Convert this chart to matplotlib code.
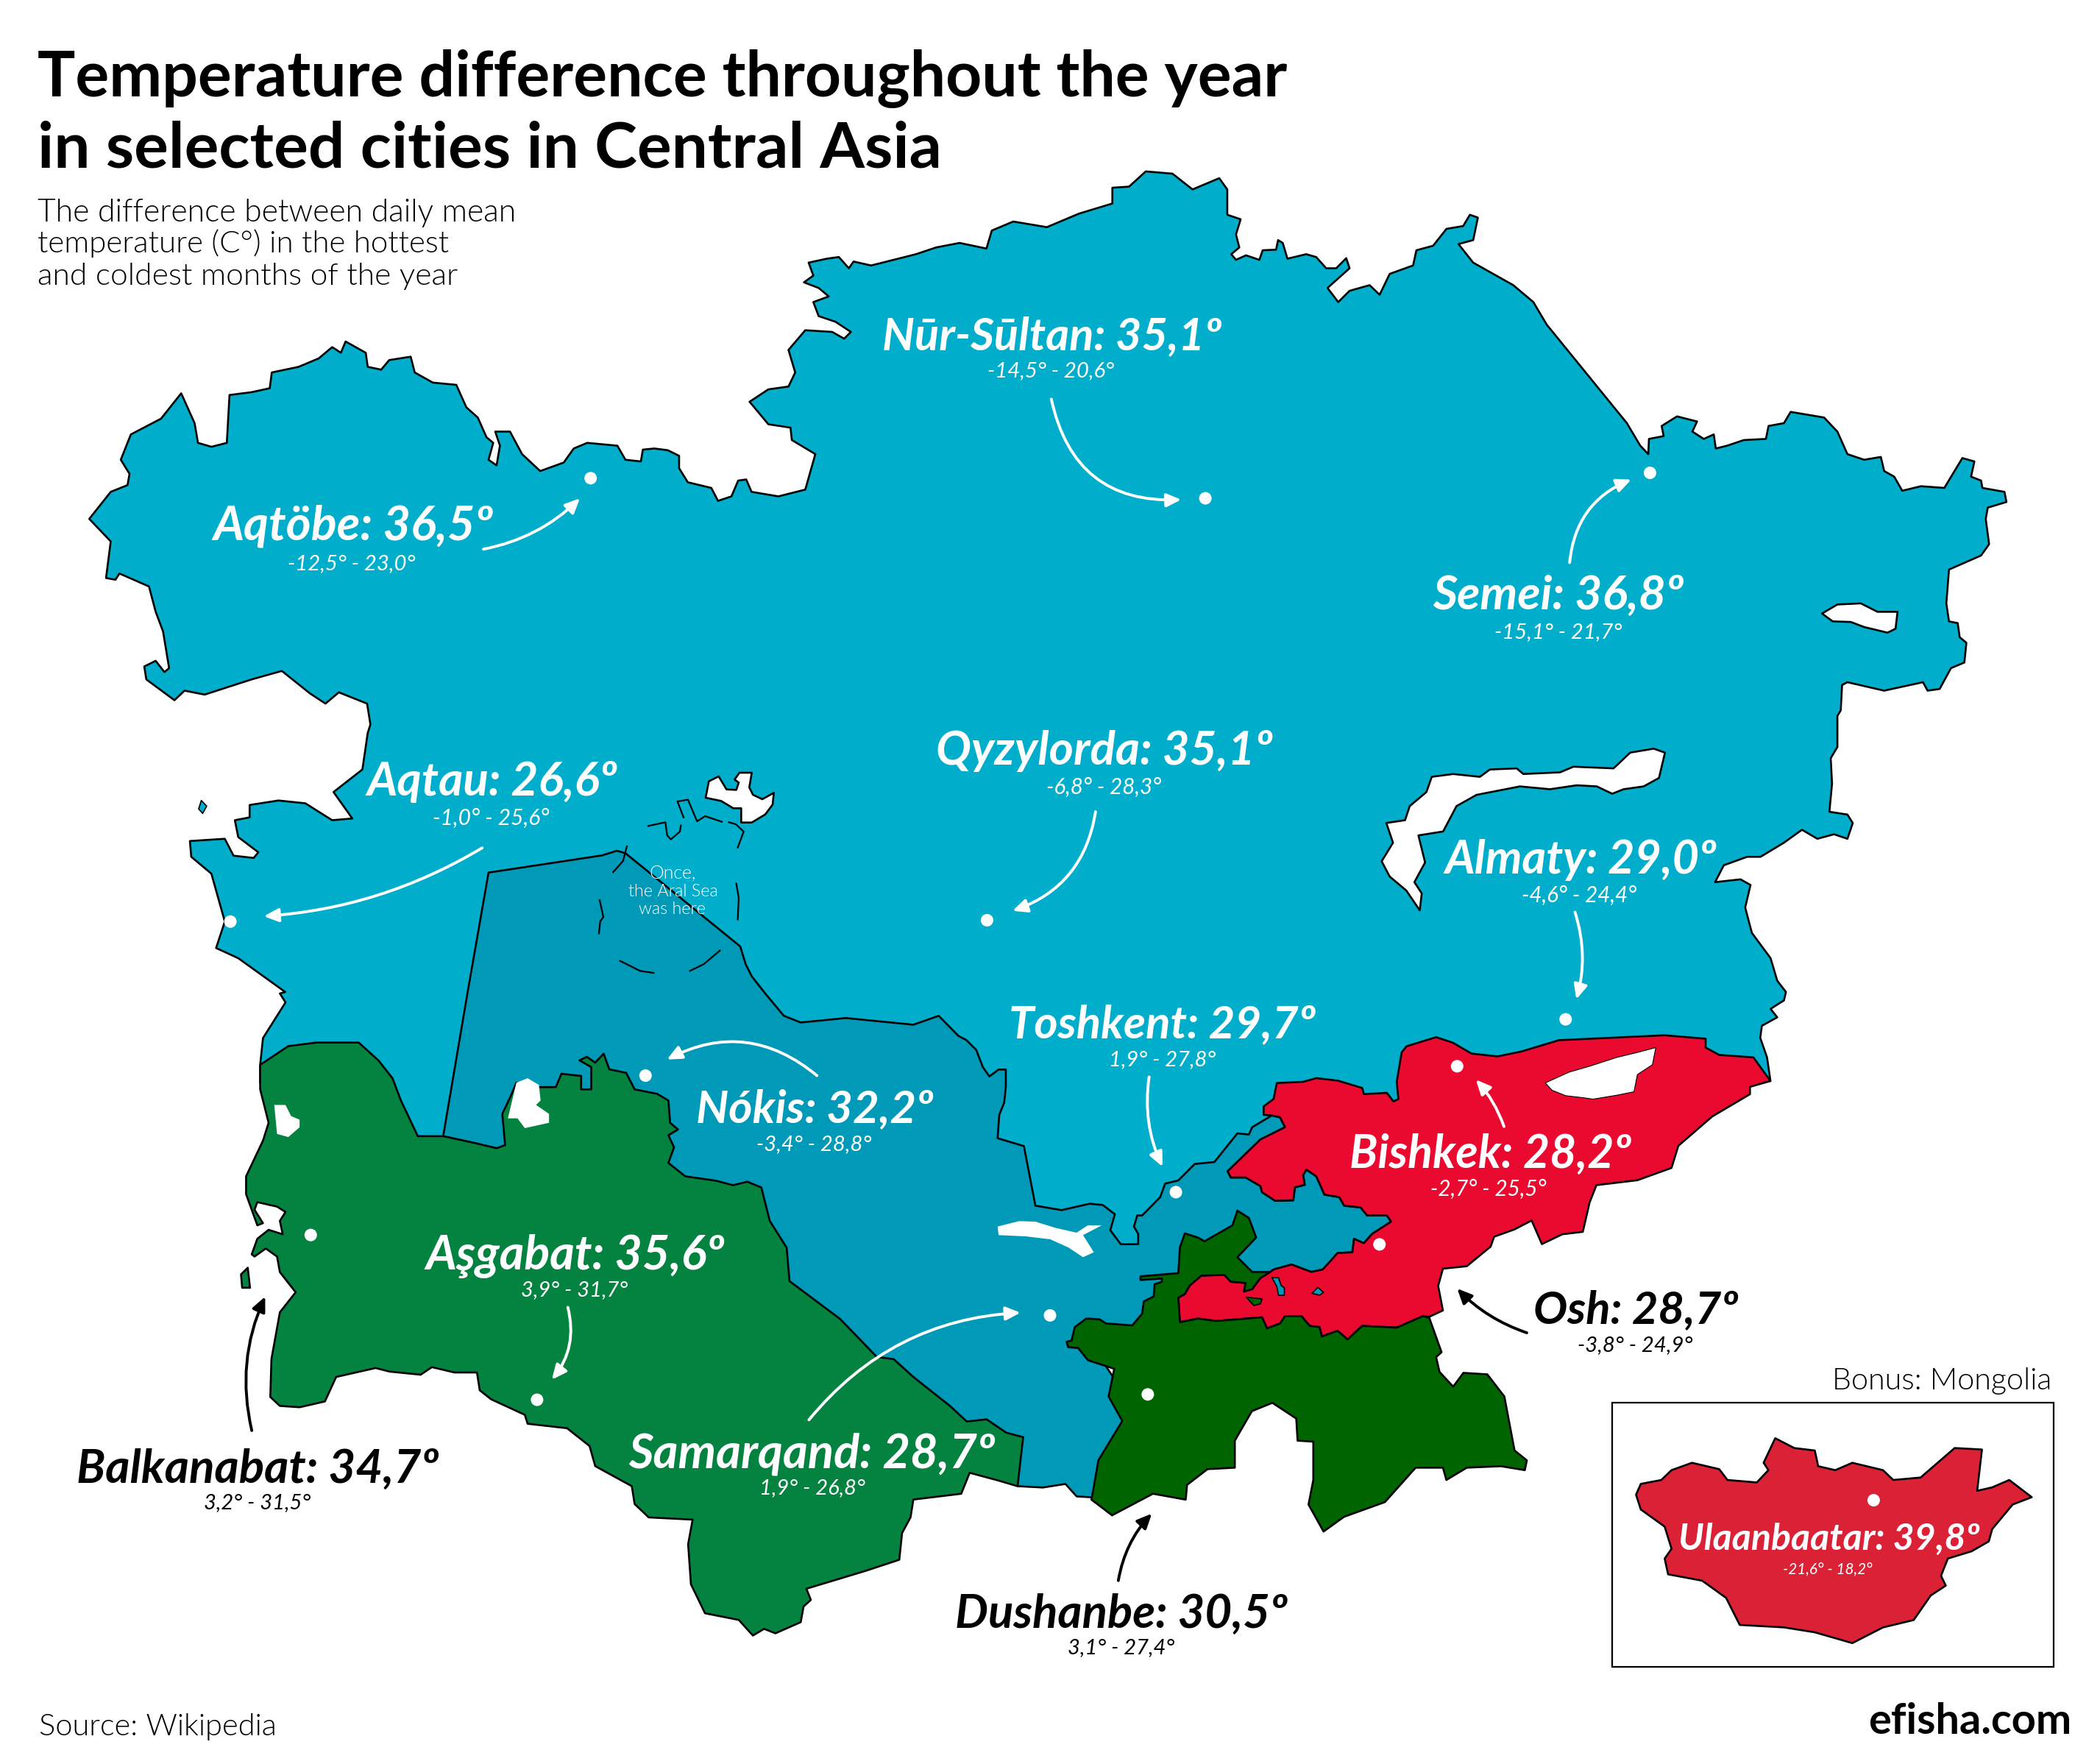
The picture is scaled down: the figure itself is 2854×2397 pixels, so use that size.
import matplotlib
matplotlib.use("Agg")
import matplotlib.pyplot as plt
from matplotlib.patches import Polygon, FancyArrowPatch, Rectangle, Circle

W, H = 2854, 2397
S = 2854 / 1568

# ---------- data ----------
CITIES = ["Nūr-Sūltan", "Aqtöbe", "Semei", "Qyzylorda", "Aqtau", "Almaty", "Toshkent", "Nókis",
          "Bishkek", "Aşgabat", "Osh", "Balkanabat", "Samarqand", "Dushanbe", "Ulaanbaatar"]
DIFF = ["35,1", "36,5", "36,8", "35,1", "26,6", "29,0", "29,7", "32,2",
        "28,2", "35,6", "28,7", "34,7", "28,7", "30,5", "39,8"]
LOW = ["-14,5", "-12,5", "-15,1", "-6,8", "-1,0", "-4,6", "1,9", "-3,4",
       "-2,7", "3,9", "-3,8", "3,2", "1,9", "3,1", "-21,6"]
HIGH = ["20,6", "23,0", "21,7", "28,3", "25,6", "24,4", "27,8", "28,8",
        "25,5", "31,7", "24,9", "31,5", "26,8", "27,4", "18,2"]
DARK = {"Osh", "Balkanabat", "Dushanbe"}

LABEL_POS = [(659, 912, 250), (159, 368, 392), (1070, 1257, 444), (699, 950, 560), (274, 461, 583),
             (1079, 1282, 641), (753, 982, 764), (520, 697, 827), (1008, 1218, 861), (318, 541, 937),
             (1145, 1298, 977), (57, 328, 1096), (469, 743, 1085), (713, 961, 1204), (1253, 1478, 1146)]
SUB_POS = [(737, 832, 276), (215, 310, 420), (1116, 1211, 471), (781, 867, 587), (323, 410, 610),
           (1136, 1222, 668), (828, 908, 790), (565, 651, 853), (1068, 1155, 887), (389, 469, 962),
           (1178, 1264, 1003), (152, 232, 1121), (567, 646, 1110), (797, 877, 1229), (1331, 1398, 1170)]
DOTS = [(900, 372), (441, 357), (1232, 353), (737, 687), (172, 688), (1169, 761), (878, 890), (482, 803),
        (1088, 796), (401, 1045), (1030, 929), (232, 922), (784, 982), (857, 1041), (1399, 1120)]
ARROWS = [((785, 298), (882, 373), 0.42), ((361, 410), (433, 372), 0.15), ((1172, 420), (1218, 358), -0.3),
          ((818, 606), (756, 680), -0.3), ((360, 633), (197, 684), -0.12), ((1176, 681), (1177, 746), -0.15),
          ((858, 804), (868, 871), 0.15), ((610, 803), (498, 791), 0.33), ((1123, 841), (1102, 806), 0.1),
          ((424, 976), (412, 1030), -0.25), ((1140, 995), (1088, 962), -0.12), ((188, 1068), (198, 968), -0.17),
          ((604, 1060), (762, 980), -0.22), ((835, 1180), (860, 1130), -0.15)]
BLACK_ARROWS = {(1140, 995), (188, 1068), (835, 1180)}


def z1(p): return [(x / 1.0965, 200 + y / 1.3067) for x, y in p]
def z2(p): return [(1430 + x / 1.1011, 200 + y / 1.3067) for x, y in p]
def z3(p): return [(300 + x / 1.3067, 1350 + y / 1.6505) for x, y in p]
def z4(p): return [(1400 + x / 1.0784, 1350 + y / 1.4976) for x, y in p]
def z5(p): return [(1300 + x / 2.24, 1400 + y / 3.0) for x, y in p]
def z6(p): return [(750 + x / 3.0, 1000 + y / 3.0) for x, y in p]


KAZ_WEST = [(425, 1500), (355, 1440), (322, 1422), (335, 1375), (315, 1290), (285, 1260), (283, 1232), (335, 1228),
            (348, 1258), (378, 1262), (385, 1252), (355, 1225), (350, 1195), (372, 1190), (372, 1168), (415, 1160),
            (455, 1165), (495, 1195), (525, 1192), (497, 1145), (540, 1105), (548, 1040), (552, 1025), (547, 988),
            (505, 968), (485, 988), (462, 970), (420, 930), (375, 945), (305, 972), (275, 965), (260, 982), (218, 945),
            (215, 922), (232, 912), (245, 932), (252, 925), (243, 860), (232, 825), (222, 780), (178, 757), (172, 768),
            (158, 765), (165, 700), (133, 660), (165, 612), (190, 600), (193, 580), (180, 555), (195, 510), (240, 482),
            (270, 437), (290, 490), (295, 525), (315, 532), (338, 525), (342, 440), (375, 435), (402, 428), (405, 400),
            (445, 390), (475, 375), (495, 355), (508, 365), (515, 345), (545, 365), (548, 390), (568, 395), (580, 378),
            (612, 372), (618, 400), (645, 418), (680, 422), (695, 462), (712, 480), (725, 515), (735, 525), (728, 555),
            (740, 565), (745, 530), (738, 505), (760, 505), (778, 545), (805, 575), (840, 560), (855, 535), (875, 525),
            (920, 530), (932, 555), (955, 558), (958, 537), (975, 535), (995, 538), (1012, 548), (1012, 570), (1025, 595),
            (1060, 605), (1070, 628), (1090, 620), (1100, 592), (1112, 590), (1120, 612), (1160, 620), (1200, 608),
            (1215, 545), (1180, 520), (1178, 498), (1145, 492), (1117, 452), (1145, 430), (1175, 425), (1185, 400),
            (1175, 360), (1200, 325), (1240, 328), (1258, 340), (1268, 328), (1245, 310), (1220, 300), (1212, 275),
            (1235, 265), (1220, 250), (1198, 240), (1212, 228), (1205, 205), (1232, 198), (1250, 195), (1265, 215),
            (1272, 203), (1298, 210), (1305, 208), (1365, 190), (1395, 178), (1430, 170), (1470, 180), (1478, 148),
            (1510, 132), (1560, 142)]
KAZ_EAST = [(40, 118), (90, 100), (90, 72), (115, 70), (140, 43), (180, 47), (210, 75), (250, 55), (262, 75), (262, 120),
            (282, 128), (275, 155), (280, 178), (268, 190), (275, 200), (290, 192), (310, 200), (315, 183), (335, 182),
            (338, 165), (345, 170), (352, 198), (380, 190), (395, 195), (410, 215), (425, 215), (440, 197), (445, 215),
            (412, 250), (428, 275), (445, 255), (475, 245), (490, 262), (505, 225), (540, 210), (545, 183), (570, 175),
            (590, 145), (615, 140), (625, 120), (637, 125), (630, 165), (608, 172), (630, 205), (690, 245), (720, 275),
            (740, 315), (860, 490), (880, 530), (892, 545), (893, 518), (915, 513), (912, 495), (935, 478), (965, 487),
            (958, 505), (975, 518), (990, 510), (993, 535), (1010, 530), (1035, 520), (1068, 518), (1072, 495), (1095, 490),
            (1105, 470), (1155, 480), (1175, 505), (1190, 545), (1215, 555), (1240, 550), (1245, 575), (1260, 585),
            (1272, 610), (1300, 602), (1335, 605), (1362, 552), (1380, 558), (1375, 585), (1390, 592), (1392, 605),
            (1425, 612), (1428, 630), (1400, 640), (1397, 660), (1402, 705), (1390, 725), (1342, 750), (1338, 810),
            (1342, 842), (1355, 845), (1358, 870), (1368, 880), (1365, 915), (1345, 925), (1328, 962), (1310, 965),
            (1303, 950), (1245, 965), (1190, 950), (1182, 955), (1180, 1000), (1175, 1010), (1175, 1065), (1165, 1085),
            (1167, 1130), (1163, 1180), (1190, 1185), (1198, 1200), (1190, 1228), (1170, 1220), (1145, 1228), (1122, 1212),
            (1095, 1235), (1060, 1260), (1040, 1260), (1005, 1275), (992, 1305), (1030, 1300), (1045, 1310), (1037, 1350),
            (1047, 1395), (1075, 1440), (1085, 1480), (1098, 1500), (1095, 1515), (1075, 1530), (1085, 1545), (1062, 1560)]
KAZ_SE = [(1070, 90), (1080, 130), (1085, 178), (600, 300), (400, 450), (100, 600)]
KAZ_SW = [(700, 400), (400, 400), (70, 200), (70, 160), (75, 100), (115, 20), (105, 0)]

UZB_N0 = [(728, 1288)]
UZB_N1 = [(205, 487), (265, 468), (300, 478), (768, 858), (790, 930), (815, 980), (870, 1050)]
UZB_C = [(1000, 50), (1030, 65), (1110, 55), (1230, 70), (1275, 50), (1310, 95)]
UZB_E = [(30, 40), (60, 80), (80, 150), (100, 188), (128, 160), (150, 160), (150, 230), (145, 295), (130, 345), (125, 440),
         (205, 472), (240, 715), (320, 733), (405, 707), (445, 712), (482, 750), (468, 815), (500, 872), (553, 872), (553, 830),
         (540, 800), (550, 755), (565, 755), (620, 680), (635, 625), (675, 612), (725, 545), (785, 537), (855, 420), (890, 425),
         (900, 395), (960, 347), (985, 355), (1000, 395), (925, 445), (825, 575), (835, 600), (880, 600), (925, 635), (930, 660),
         (970, 695), (1025, 693), (1030, 640), (1060, 630), (1055, 590), (1065, 568), (1095, 595), (1120, 670), (1165, 680),
         (1180, 715), (1230, 722), (1250, 755), (1310, 755), (1323, 780), (1265, 830), (1240, 868), (1210, 850), (1205, 905),
         (1160, 908), (1115, 975), (1080, 985), (1020, 955), (965, 975), (955, 985), (800, 1050), (700, 1050), (620, 1130),
         (600, 1220), (420, 1240), (440, 1340), (520, 1500)]
UZB_SE = [(170, 870), (140, 960), (100, 1040), (90, 1030)]
UZB_S = [(1548, 1130), (1520, 1128), (1500, 1100), (1460, 1108), (1415, 1105), (1420, 1000), (1250, 1000), (900, 700),
         (700, 500), (500, 350), (395, 320), (438, 0)]

TKM = [(70, 160), (120, 118), (170, 110), (245, 110), (280, 150), (305, 190), (320, 240), (350, 320), (395, 320), (450, 335),
       (490, 347), (505, 340), (500, 270), (515, 230), (525, 200), (560, 210), (595, 210), (605, 180), (640, 185), (640, 215),
       (658, 215), (658, 165), (637, 150), (650, 142), (665, 155), (680, 135), (690, 170), (720, 178), (735, 215), (775, 225),
       (795, 240), (798, 290), (812, 305), (795, 318), (805, 345), (795, 380), (825, 410), (880, 420), (910, 430), (935, 422),
       (960, 435), (975, 510), (1005, 570), (1010, 645), (1100, 730), (1165, 815), (1195, 820), (1230, 860), (1295, 925),
       (1325, 960), (1360, 955), (1395, 985), (1425, 995), (1415, 1105), (1380, 1092), (1330, 1075), (1315, 1122), (1230, 1135),
       (1225, 1175), (1210, 1210), (1205, 1270), (1145, 1295), (1040, 1335), (1048, 1360), (1035, 1375), (1030, 1410), (985, 1435),
       (965, 1425), (945, 1440), (920, 1405), (860, 1390), (835, 1325), (830, 1235), (838, 1180), (760, 1175), (735, 1145),
       (730, 1105), (665, 1060), (655, 1015), (615, 975), (545, 965), (540, 945), (480, 910), (460, 890), (455, 850), (415, 850),
       (375, 838), (355, 855), (300, 848), (275, 840), (205, 860), (185, 915), (140, 928), (105, 925), (88, 905), (90, 820),
       (105, 715), (133, 670), (105, 625), (100, 590), (80, 572), (60, 590), (55, 585), (65, 550), (85, 530), (110, 540),
       (105, 510), (115, 490), (100, 478), (65, 468), (60, 485), (75, 515), (65, 520), (45, 450), (45, 410), (75, 330), (85, 290),
       (70, 215)]
TKM_ISLAND = [(48, 615), (52, 660), (38, 660), (36, 630)]
TKM_LAKE = [(95, 250), (115, 250), (125, 275), (140, 283), (140, 300), (120, 322), (100, 315)]
SARY_LAKE = [(510, 280), (525, 200), (545, 190), (565, 205), (568, 240), (560, 250), (583, 270), (583, 290), (540, 302), (527, 280)]
AYDAR_LAKE = [(125, 800), (190, 778), (240, 780), (300, 805), (365, 825), (400, 795), (442, 795), (385, 835), (418, 905), (385, 925),
              (340, 885), (285, 852), (210, 840), (128, 835)]

KGZ_E = [(685, 128), (720, 118), (775, 95), (930, 85), (990, 92), (990, 110), (1010, 125), (1060, 130), (1085, 178), (1055, 190),
         (1055, 205), (1000, 250), (950, 310), (940, 355), (890, 380), (830, 390), (820, 425), (810, 485), (780, 490), (750, 510),
         (735, 462), (710, 480), (680, 495), (675, 515), (640, 555), (605, 560), (598, 595), (605, 645), (585, 658)]
KGZ_W = [(1420, 1165), (1340, 1212), (1235, 1205), (1190, 1260), (1160, 1225), (1112, 1248), (1105, 1210), (1075, 1205), (1050, 1165),
         (1000, 1165), (985, 1195), (945, 1215), (930, 1170), (790, 1185), (735, 1175), (680, 1190), (675, 1090), (695, 1075), (710, 1040),
         (745, 1000), (815, 997), (835, 1025), (880, 1030), (875, 1065), (900, 1055), (925, 1010), (955, 985), (965, 975), (1020, 955),
         (1080, 985), (1115, 975), (1160, 908), (1205, 905), (1210, 850), (1240, 868), (1265, 830), (1323, 780), (1310, 755), (1250, 755),
         (1230, 722), (1180, 715), (1165, 680), (1120, 670), (1095, 595), (1065, 568), (1055, 590), (1060, 630), (1030, 640), (1025, 693),
         (970, 695), (930, 660), (925, 635), (880, 600), (835, 600), (825, 575), (925, 445), (1000, 395), (985, 355), (960, 347), (935, 345),
         (935, 310), (965, 280), (975, 215), (1055, 210), (1095, 195), (1160, 205), (1235, 235), (1240, 260), (1310, 255), (1330, 290),
         (1345, 280), (1340, 210), (1355, 90), (1370, 65), (1460, 28), (1510, 50), (1568, 95)]
TJK_S = [(115, 820), (135, 870), (100, 950), (90, 1030), (120, 1062), (180, 1018), (228, 1030), (230, 1000), (260, 968), (300, 965),
         (300, 910), (325, 850), (355, 833), (390, 865), (392, 910), (415, 912), (415, 990), (408, 1040), (430, 1095), (460, 1065),
         (520, 1035), (565, 965), (605, 965), (610, 990), (640, 965), (690, 962), (725, 970), (728, 950), (710, 930), (695, 820),
         (670, 775), (635, 772), (620, 800), (600, 770), (595, 740), (603, 730), (585, 660)]
TJK_N = [(1420, 1165), (1340, 1212), (1235, 1205), (1190, 1260), (1160, 1225), (1112, 1248), (1105, 1210), (1075, 1205), (1050, 1165),
         (1000, 1165), (985, 1195), (945, 1215), (930, 1170), (790, 1185), (735, 1175), (680, 1190), (675, 1090), (695, 1075), (710, 1040),
         (745, 1000), (815, 997), (835, 1025), (880, 1030), (875, 1065), (900, 1055), (925, 1010), (955, 985), (900, 985), (855, 925),
         (912, 845), (890, 765), (855, 735), (840, 795), (755, 860), (735, 845), (695, 828), (680, 885), (675, 990), (560, 1003),
         (560, 1018), (625, 1012), (625, 1025), (603, 1035), (600, 1085), (570, 1105), (565, 1155), (535, 1203), (455, 1195), (435, 1178),
         (395, 1175), (360, 1210), (350, 1265), (335, 1270), (340, 1292), (370, 1295), (400, 1345), (480, 1380)]
TJK_ENCLAVE = [(882, 1088), (930, 1095), (925, 1115), (905, 1122)]
UZB_ENCLAVE_A = [(960, 1008), (980, 1008), (988, 1040), (998, 1050), (998, 1080), (980, 1080), (975, 1045)]
UZB_ENCLAVE_B = [(1082, 1072), (1100, 1048), (1117, 1068), (1105, 1080)]

ISSYK = [(755, 182), (790, 160), (820, 148), (860, 130), (890, 120), (917, 110), (912, 145), (890, 165), (885, 200), (860, 207),
         (825, 215), (810, 212), (785, 208), (765, 197)]
BALKHASH = [(568, 1118), (600, 1113), (640, 1118), (655, 1105), (695, 1103), (705, 1113), (760, 1110), (780, 1100), (840, 1103),
            (865, 1075), (900, 1068), (917, 1075), (908, 1120), (885, 1135), (855, 1140), (838, 1148), (815, 1135), (785, 1133),
            (745, 1140), (700, 1135), (635, 1150), (605, 1170), (585, 1215), (548, 1222), (558, 1270), (542, 1305), (553, 1325),
            (550, 1355), (530, 1320), (505, 1295), (493, 1268), (510, 1235), (500, 1200), (528, 1195), (535, 1170), (560, 1145)]
ZAYSAN = [(1152, 828), (1175, 812), (1210, 810), (1235, 825), (1265, 825), (1262, 855), (1250, 862), (1215, 852), (1195, 843), (1168, 842)]
NORTH_ARAL = [(627, 252), (640, 185), (680, 165), (712, 218), (752, 220), (762, 190), (745, 178), (765, 150), (815, 150), (805, 210),
              (820, 240), (858, 258), (905, 232), (900, 280), (870, 320), (815, 353), (772, 353), (772, 295), (740, 295), (690, 265)]
CASPIAN_ISLET = [(300, 1160), (308, 1170), (302, 1183), (296, 1175)]
OLD_ARAL = [[(393, 367), (463, 352), (470, 405), (485, 422), (522, 390), (526, 365)],
            [(537, 332), (512, 267), (555, 260), (592, 348), (625, 327), (693, 350)],
            [(722, 352), (750, 360), (782, 390), (758, 455)],
            [(306, 450), (290, 510), (250, 555)],
            [(752, 602), (762, 660), (758, 748)],
            [(195, 670), (210, 738), (197, 757), (192, 805)],
            [(278, 917), (360, 958), (415, 966)],
            [(563, 958), (620, 930), (685, 875)]]
MONGOLIA = [(888, 1020), (895, 998), (925, 990), (940, 970), (970, 955), (1010, 968), (1022, 990), (1065, 995), (1082, 970), (1075, 955),
            (1092, 905), (1120, 925), (1150, 930), (1155, 962), (1180, 970), (1205, 955), (1250, 970), (1265, 990), (1305, 985), (1355, 925),
            (1395, 928), (1388, 1012), (1410, 1005), (1435, 990), (1468, 1025), (1440, 1040), (1410, 1090), (1405, 1115), (1380, 1135),
            (1345, 1150), (1335, 1185), (1342, 1205), (1320, 1225), (1295, 1275), (1250, 1290), (1205, 1322), (1150, 1300), (1105, 1290),
            (1040, 1285), (1020, 1230), (985, 1195), (935, 1182), (930, 1150), (940, 1130), (930, 1085), (895, 1050)]
INSET_BOX = [(853, 832), (1500, 1370)]

TITLE = [("Temperature difference throughout the year", 28, 960, 131), ("in selected cities in Central Asia", 28, 704, 227)]
SUBTITLE = [("The difference between daily mean", 28, 386, 301), ("temperature (C°) in the hottest", 28, 336, 343),
            ("and coldest months of the year", 28, 342, 387)]
ARAL_NOTE = [("Once,", 485, 520, 1194), ("the Aral Sea", 469, 536, 1218), ("was here", 477, 527, 1242)]

C_KAZ, C_UZB, C_TKM, C_KGZ, C_TJK, C_MNG = "#00AECC", "#0099B8", "#048240", "#EA0A30", "#006400", "#DA2136"
FONT = "Lato"

# ---------- figure ----------
fig = plt.figure(figsize=(W / 100, H / 100), dpi=100, facecolor="white")
ax = fig.add_axes([0, 0, 1, 1])
ax.set_xlim(0, W)
ax.set_ylim(H, 0)
ax.axis("off")
rend = fig.canvas.get_renderer()
LW = 1.9


def poly(pts, fc, z=2, lw=LW, ec="black"):
    ax.add_patch(Polygon(pts, closed=True, facecolor=fc, edgecolor=ec, linewidth=lw, joinstyle="round", zorder=z))


def fit(text, x0, x1, base, color="black", weight="normal", style="normal", z=10, align="center"):
    xx = x0 * S if align == "left" else (x1 * S if align == "right" else (x0 + x1) / 2 * S)
    t = ax.text(xx, base, text, ha=align, va="baseline", color=color, fontweight=weight, fontstyle=style,
                fontfamily=FONT, fontsize=20, zorder=z)
    w = t.get_window_extent(rend).width
    t.set_fontsize(20 * (x1 - x0) * S / w)
    return t


poly(z1(KAZ_WEST) + z2(KAZ_EAST) + z4(KAZ_SE) + z3(KAZ_SW), C_KAZ, 2)
poly(z1(UZB_N0) + z6(UZB_N1) + z3(UZB_C) + z5(UZB_E) + z4(UZB_SE) + z3(UZB_S), C_UZB, 3)
poly(z3(TKM), C_TKM, 4)
poly(z3(TKM_ISLAND), C_TKM, 4)
poly(z4(KGZ_E) + z5(KGZ_W), C_KGZ, 5)
poly(z4(TJK_S) + z5(TJK_N), C_TJK, 6)
poly(z5(TJK_ENCLAVE), C_TJK, 6, 1.2)
poly(z5(UZB_ENCLAVE_A), C_UZB, 6, 1.2)
poly(z5(UZB_ENCLAVE_B), C_UZB, 6, 1.2)
for lake in (z2(BALKHASH), z2(ZAYSAN), z6(NORTH_ARAL)):
    poly(lake, "white", 7)
poly(z4(ISSYK), "white", 7, 0.8)
for lake in (z3(TKM_LAKE), z3(SARY_LAKE), z5(AYDAR_LAKE)):
    poly(lake, "white", 7, 0, "none")
poly(z1(CASPIAN_ISLET), C_KAZ, 4, 1.2)
for seg in OLD_ARAL:
    xs, ys = zip(*z6(seg))
    ax.plot(xs, ys, color="black", lw=1.6, zorder=8)

(bx0, by0), (bx1, by1) = z4(INSET_BOX)
ax.add_patch(Rectangle((bx0, by0), bx1 - bx0, by1 - by0, fill=False, edgecolor="black", linewidth=1.6, zorder=3))
poly(z4(MONGOLIA), C_MNG, 4)

for (x, y) in DOTS:
    ax.add_patch(Circle((x * S, y * S), 8.5, facecolor="white", edgecolor="none", zorder=9))

for (p0, p1, rad) in ARROWS:
    col = "black" if p0 in BLACK_ARROWS else "white"
    ax.add_patch(FancyArrowPatch((p0[0] * S, p0[1] * S), (p1[0] * S, p1[1] * S), connectionstyle=f"arc3,rad={rad}",
                                 arrowstyle="-|>,head_length=12,head_width=5.5", color=col, lw=2.8,
                                 shrinkA=0, shrinkB=0, zorder=9))

for i, city in enumerate(CITIES):
    col = "black" if city in DARK else "white"
    x0, x1, y = LABEL_POS[i]
    fit(f"{city}: {DIFF[i]}º", x0, x1, y * S + 20, col, "bold", "italic")
    x0, x1, y = SUB_POS[i]
    fit(f"{LOW[i]}° - {HIGH[i]}°", x0, x1, y * S + 10, col, "normal", "italic")

for txt, x0, x1, b in TITLE:
    fit(txt, x0, x1, b, "black", "bold", align="left")
for txt, x0, x1, b in SUBTITLE:
    fit(txt, x0, x1, b, "black", 300, align="left")
for txt, x0, x1, b in ARAL_NOTE:
    fit(txt, x0, x1, b, "white", 300)
fit("Source: Wikipedia", 29, 207, 1289 * S + 12, "black", 300, align="left")
fit("efisha.com", 1395, 1547, 1287 * S + 13, "black", "bold", align="right")
fit("Bonus: Mongolia", 1368, 1532, 1031 * S + 11, "black", 300, align="right")

fig.savefig("out.png", dpi=100, facecolor="white")
